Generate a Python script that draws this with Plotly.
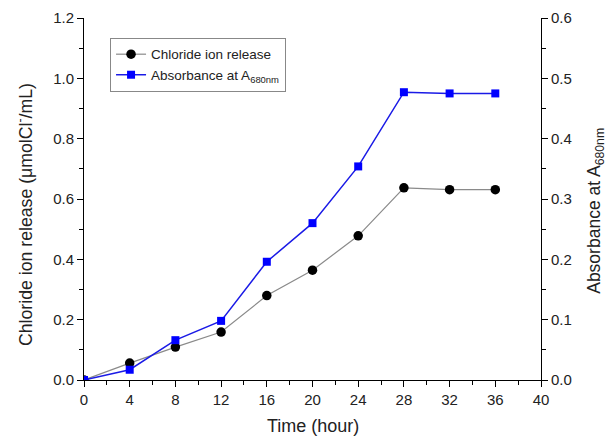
import plotly.graph_objects as go

time_h = [0, 4, 8, 12, 16, 20, 24, 28, 32, 36]
chloride = [0.0, 0.056, 0.109, 0.159, 0.280, 0.364, 0.478, 0.637, 0.631, 0.631]
absorbance = [0.0, 0.017, 0.066, 0.098, 0.196, 0.260, 0.354, 0.477, 0.475, 0.475]

FONT = "Liberation Sans, Arial, sans-serif"
TXT = "#222"

fig = go.Figure()
fig.add_trace(go.Scatter(
    x=time_h, y=chloride, name="Chloride ion release", mode="lines+markers",
    line=dict(color="#8a8a8a", width=1.2),
    marker=dict(symbol="circle", size=9.5, color="black"),
))
fig.add_trace(go.Scatter(
    x=time_h, y=absorbance, name="Absorbance at A<sub>680nm</sub>", mode="lines+markers",
    line=dict(color="#1a1ae6", width=1.5),
    marker=dict(symbol="square", size=8, color="#0000ff"),
    yaxis="y2",
))

axis_common = dict(
    showline=True, linecolor="black", linewidth=1,
    ticks="outside", ticklen=6, tickcolor="black", tickwidth=1,
    showgrid=False, zeroline=False, automargin=False,
    tickfont=dict(family=FONT, size=15, color=TXT),
)

fig.update_layout(
    width=611, height=439,
    margin=dict(l=84, r=70, t=18, b=59),
    paper_bgcolor="white", plot_bgcolor="white",
    font=dict(family=FONT, color=TXT),
    showlegend=True,
    legend=dict(
        x=0.057, y=0.945, xanchor="left", yanchor="top",
        bordercolor="#888", borderwidth=1, bgcolor="white",
        font=dict(family=FONT, size=13.5, color=TXT),
        tracegroupgap=0, itemwidth=30,
    ),
    xaxis=dict(
        **axis_common, range=[0, 40], tick0=0, dtick=4,
        minor=dict(ticks="outside", dtick=2, ticklen=4, tickwidth=1, tickcolor="black"),
    ),
    yaxis=dict(
        **axis_common, range=[0, 1.2], dtick=0.2, tickformat=".1f",
        minor=dict(ticks="outside", dtick=0.1, ticklen=4, tickwidth=1, tickcolor="black"),
    ),
    yaxis2=dict(
        **axis_common, range=[0, 0.6], dtick=0.1, tickformat=".1f",
        overlaying="y", side="right",
        minor=dict(ticks="outside", dtick=0.05, ticklen=4, tickwidth=1, tickcolor="black"),
    ),
    annotations=[
        dict(text="Time (hour)", xref="paper", yref="paper", x=0.5, y=-0.127,
             xanchor="center", yanchor="middle", showarrow=False,
             font=dict(family=FONT, size=18, color=TXT)),
        dict(text="Chloride ion release (μmolCl<sup>-</sup>/mL)", xref="paper", yref="paper",
             x=-0.131, y=0.456, xanchor="center", yanchor="middle", textangle=-90,
             showarrow=False, font=dict(family=FONT, size=17.7, color=TXT)),
        dict(text="Absorbance at A<sub>680nm</sub>", xref="paper", yref="paper",
             x=1.12, y=0.467, xanchor="center", yanchor="middle", textangle=-90,
             showarrow=False, font=dict(family=FONT, size=17.5, color=TXT)),
    ],
)

fig.write_html("out.html", config={"displayModeBar": False},
               post_script="document.body.style.margin='0';")
